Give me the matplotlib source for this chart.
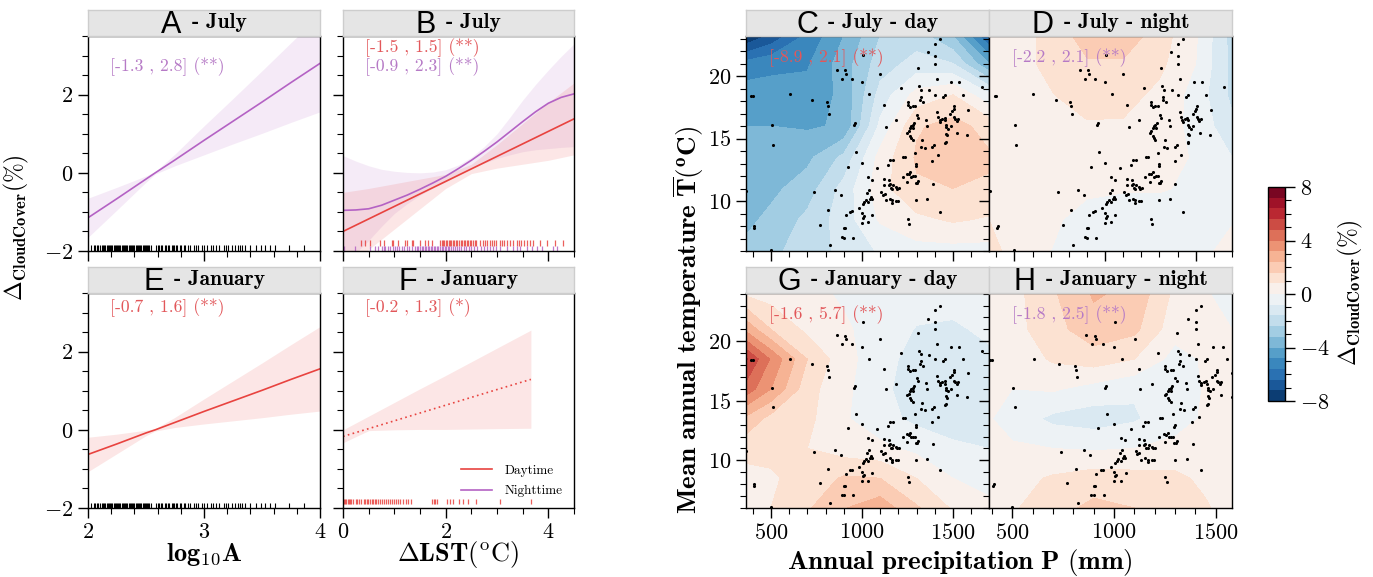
import numpy as np
import matplotlib
matplotlib.use('Agg')
import matplotlib.pyplot as plt
from matplotlib.colors import ListedColormap, BoundaryNorm
from matplotlib.cm import ScalarMappable
from matplotlib.ticker import MultipleLocator
from matplotlib.lines import Line2D

plt.rcParams['mathtext.fontset'] = 'cm'
plt.rcParams['font.family'] = 'serif'
plt.rcParams['font.serif'] = ['cmr10']
plt.rcParams['axes.formatter.use_mathtext'] = True

# ---------------- data: partial effects ----------------
xA = [2.0, 2.25, 2.5, 2.58, 2.75, 3.0, 3.25, 3.5, 3.75, 4.0]
fitA = [-1.15, -0.66, -0.16, 0.0, 0.33, 0.83, 1.32, 1.81, 2.31, 2.80]
upA = [-0.65, -0.37, -0.08, 0.03, 0.48, 1.20, 1.90, 2.61, 3.33, 4.04]
loA = [-1.65, -0.95, -0.24, -0.03, 0.18, 0.46, 0.74, 1.01, 1.29, 1.56]

xE = [2.0, 2.25, 2.5, 2.58, 2.75, 3.0, 3.25, 3.5, 3.75, 4.0]
fitE = [-0.63, -0.36, -0.08, 0.0, 0.19, 0.47, 0.74, 1.01, 1.29, 1.56]
upE = [-0.19, -0.11, -0.01, 0.03, 0.32, 0.79, 1.25, 1.71, 2.18, 2.64]
loE = [-1.07, -0.61, -0.15, -0.03, 0.06, 0.15, 0.23, 0.31, 0.40, 0.48]

xB_day = [0.0, 0.5, 1.0, 1.5, 2.0, 2.5, 3.0, 3.5, 4.0, 4.5]
fitB_day = [-1.50, -1.18, -0.86, -0.54, -0.22, 0.10, 0.42, 0.74, 1.06, 1.38]
upB_day = [-0.50, -0.40, -0.28, -0.16, -0.04, 0.22, 0.72, 1.26, 1.80, 2.30]
loB_day = [-2.50, -1.96, -1.44, -0.92, -0.40, -0.02, 0.12, 0.22, 0.32, 0.46]
xB_night = [0.0, 0.25, 0.5, 0.75, 1.0, 1.25, 1.5, 1.75, 2.0, 2.25, 2.5, 2.75, 3.0, 3.25,
            3.5, 3.75, 4.0, 4.25, 4.5]
fitB_night = [-0.96, -0.95, -0.92, -0.83, -0.70, -0.57, -0.42, -0.26, -0.09, 0.11, 0.32, 0.55,
              0.79, 1.05, 1.31, 1.56, 1.78, 1.93, 2.02]
upB_night = [0.44, 0.30, 0.18, 0.09, 0.04, 0.01, 0.00, 0.02, 0.08, 0.20, 0.40, 0.67, 1.00, 1.42,
             1.86, 2.26, 2.63, 2.98, 3.30]
loB_night = [-2.40, -2.05, -1.73, -1.37, -1.04, -0.79, -0.57, -0.39, -0.23, -0.06, 0.11, 0.25,
             0.37, 0.46, 0.54, 0.59, 0.62, 0.65, 0.67]

xF = [0.0, 0.5, 1.0, 1.5, 2.0, 2.5, 3.0, 3.66]
fitF = [-0.17, 0.03, 0.23, 0.43, 0.63, 0.83, 1.03, 1.29]
upF = [0.00, 0.35, 0.70, 1.05, 1.39, 1.74, 2.09, 2.55]
loF = [-0.33, -0.02, 0.00, 0.01, 0.01, 0.02, 0.03, 0.04]

rug_logA = [2.03, 2.05, 2.06, 2.08, 2.09, 2.10, 2.12, 2.13, 2.14, 2.15, 2.16, 2.17, 2.18, 2.19,
            2.20, 2.21, 2.22, 2.23, 2.24, 2.25, 2.26, 2.27, 2.28, 2.29, 2.30, 2.31, 2.32, 2.33,
            2.34, 2.35, 2.36, 2.37, 2.38, 2.39, 2.40, 2.41, 2.42, 2.43, 2.44, 2.45, 2.46, 2.47,
            2.48, 2.49, 2.50, 2.51, 2.52, 2.53, 2.54, 2.59, 2.60, 2.61, 2.63, 2.64, 2.66, 2.67,
            2.69, 2.70, 2.72, 2.73, 2.74, 2.76, 2.77, 2.79, 2.80, 2.83, 2.84, 2.86, 2.88, 2.91,
            2.93, 2.95, 2.98, 3.00, 3.03, 3.06, 3.08, 3.10, 3.13, 3.17, 3.19, 3.21, 3.24, 3.27,
            3.29, 3.31, 3.33, 3.35, 3.40, 3.45, 3.49, 3.53, 3.57, 3.61, 3.73, 3.86]
rug_dLST_jul_day = [0.36, 0.43, 0.53, 0.72, 0.79, 0.95, 0.98, 1.08, 1.21, 1.24, 1.34, 1.37, 1.50,
                    1.60, 1.66, 1.73, 1.89, 1.92, 1.95, 1.97, 2.00, 2.03, 2.06, 2.08, 2.11, 2.14,
                    2.17, 2.20, 2.23, 2.26, 2.29, 2.32, 2.35, 2.38, 2.41, 2.44, 2.47, 2.50, 2.54,
                    2.57, 2.60, 2.67, 2.73, 2.77, 2.81, 2.86, 2.90, 2.95, 2.99, 3.06, 3.10, 3.14,
                    3.19, 3.25, 3.32, 3.38, 3.42, 3.47, 3.52, 3.58, 3.64, 3.71, 3.84, 3.97, 4.13, 4.29]
rug_dLST_jul_night = [0.02, 0.23, 0.53, 0.62, 0.69, 0.75, 0.79, 0.82, 0.88, 0.92, 0.97, 1.01, 1.05,
                      1.10, 1.15, 1.19, 1.24, 1.29, 1.34, 1.40, 1.44, 1.47, 1.50, 1.53, 1.56, 1.59,
                      1.62, 1.65, 1.68, 1.71, 1.74, 1.77, 1.80, 1.83, 1.86, 1.89, 1.92, 1.95, 1.98,
                      2.01, 2.04, 2.07, 2.10, 2.14, 2.18, 2.22, 2.26, 2.30, 2.35, 2.40, 2.45, 2.50,
                      2.56, 2.62, 2.68, 2.74, 2.80, 2.86, 2.92, 2.99, 3.06, 3.19, 3.32, 3.38, 3.45,
                      3.58, 3.68, 3.77, 3.87, 4.10, 4.16]
rug_dLST_jan_day = [0.00, 0.02, 0.04, 0.06, 0.09, 0.11, 0.14, 0.16, 0.19, 0.25, 0.28, 0.31, 0.36,
                    0.40, 0.43, 0.46, 0.49, 0.53, 0.56, 0.59, 0.62, 0.65, 0.68, 0.72, 0.76, 0.80,
                    0.84, 0.88, 0.92, 0.96, 1.00, 1.04, 1.08, 1.12, 1.17, 1.22, 1.27, 1.32, 1.74,
                    1.77, 1.80, 1.84, 2.03, 2.08, 2.15, 2.25, 2.34, 2.44, 2.60, 3.06, 3.66]

# ---------------- data: cities (precipitation, temperature) ----------------
city_P = [392, 401, 365, 408, 405, 504, 511, 498, 604, 727, 738, 769, 808, 811, 819, 811, 822, 853,
          861, 883, 892, 905, 910, 888, 899, 899, 908, 947, 952, 912, 921, 934, 947, 954, 962, 967,
          983, 998, 998, 1000, 1000, 1004, 1006, 1011, 1006, 1013, 1020, 1028, 1033, 1035, 1037,
          1042, 1048, 1053, 1053, 1057, 1033, 1037, 1081, 1101, 1106, 1114, 1121, 1121, 1124, 1123,
          1130, 1141, 1147, 1147, 1154, 1159, 1167, 1172, 1185, 1190, 1201, 1134, 1152, 1167, 1189,
          1196, 1165, 1154, 1168, 1189, 1214, 1227, 1223, 1236, 1245, 1256, 1264, 1269, 1249, 1252,
          1251, 1262, 1278, 1291, 1251, 1260, 1249, 1256, 1264, 1271, 1278, 1286, 1264, 1271, 1278,
          1282, 1291, 1299, 1297, 1308, 1297, 1304, 1282, 1291, 1299, 1302, 1308, 1310, 1315, 1326,
          1322, 1319, 1337, 1330, 1324, 1344, 1357, 1353, 1386, 1397, 1385, 1388, 1357, 1370, 1364,
          1404, 1404, 1404, 1429, 1414, 1419, 1430, 1401, 1445, 1456, 1412, 1419, 1427, 1430, 1441,
          1454, 1456, 1460, 1463, 1460, 1465, 1460, 1456, 1484, 1495, 1504, 1507, 1513, 1520, 1527,
          1474, 1487, 1489, 1505, 1524, 1535, 1557, 1582, 1579, 1657]
city_T = [18.4, 18.4, 10.8, 8.0, 7.85, 16.1, 14.45, 6.1, 18.55, 18.1, 10.7, 8.1, 17.9, 17.6, 17.0,
          9.3, 6.45, 10.85, 20.5, 10.45, 19.75, 20.45, 20.2, 7.1, 7.05, 7.85, 7.85, 19.75, 7.05, 8.85,
          12.7, 9.15, 9.2, 16.05, 16.25, 13.9, 9.45, 8.25, 19.55, 13.05, 9.05, 21.65, 8.65, 8.8, 9.8,
          9.95, 10.1, 10.65, 9.95, 8.3, 18.55, 10.2, 10.35, 10.2, 11.7, 8.9, 11.9, 10.9, 12.65, 20.2,
          10.75, 10.5, 11.8, 11.3, 10.6, 17.7, 15.95, 12.9, 11.7, 11.3, 11.35, 11.05, 11.0, 11.3,
          11.15, 11.0, 11.05, 10.05, 10.2, 10.05, 10.0, 10.0, 9.85, 13.25, 13.25, 16.45, 19.05, 13.55,
          11.95, 13.55, 12.2, 12.15, 12.3, 11.95, 11.55, 17.7, 17.95, 17.5, 17.6, 17.6, 8.6, 8.2,
          15.45, 15.6, 15.85, 16.0, 16.1, 16.25, 15.2, 15.05, 14.9, 15.85, 13.85, 12.95, 12.8, 11.6,
          11.45, 11.45, 12.0, 12.0, 10.05, 16.9, 16.65, 20.65, 19.2, 18.9, 18.3, 18.1, 17.95, 14.85,
          14.3, 14.25, 16.0, 16.5, 14.3, 14.45, 13.2, 11.4, 10.15, 18.85, 21.9, 22.6, 21.6, 21.0,
          23.0, 19.8, 13.65, 9.15, 18.5, 18.3, 18.5, 17.1, 16.7, 16.5, 16.3, 16.55, 16.65, 16.45,
          16.05, 15.9, 15.4, 15.25, 14.75, 14.65, 17.0, 17.2, 17.4, 16.7, 16.55, 16.4, 16.55, 15.8,
          16.0, 19.5, 17.6, 15.45, 19.5, 18.5, 17.3, 15.3, 19.15]

# ---------------- data: fitted surfaces (rows: temperature, cols: precipitation) ----------------
P_cols_CDG = [363, 500, 700, 900, 1100, 1300, 1500, 1698]
P_cols_H = [385, 500, 700, 900, 1100, 1300, 1450, 1580]
T_rows_jul = [6.0, 8.5, 11.0, 13.5, 16.0, 18.5, 21.0, 23.2]
T_rows_jan = [6.0, 8.5, 11.0, 13.5, 16.0, 18.5, 21.0, 24.05]

Z_jul_day = [
    [-3.0, -2.6, -2.0, -1.4, -0.7, -0.3, -0.3, -0.3],
    [-3.4, -3.0, -2.2, -1.2, 0.1, 0.6, 0.9, 0.7],
    [-3.7, -3.4, -2.8, -1.3, 0.5, 1.5, 1.6, 1.5],
    [-3.6, -3.6, -3.4, -2.2, 0.3, 1.7, 1.9, 1.7],
    [-4.0, -4.0, -4.1, -3.9, -0.6, 1.5, 1.9, 1.3],
    [-4.4, -4.5, -4.5, -3.8, -1.3, 0.3, 0.8, -0.6],
    [-5.3, -5.0, -4.9, -3.6, -2.0, -1.3, -1.6, -4.0],
    [-8.9, -7.0, -5.4, -4.0, -2.4, -2.0, -3.2, -6.5],
]
Z_jul_night = [
    [1.0, 0.6, 0.0, -0.3, -0.4, -0.4, -0.2, 0.2],
    [0.8, 0.4, 0.1, -0.2, -0.3, -0.3, -0.3, -0.05],
    [0.4, 0.2, 0.1, 0.1, 0.05, 0.05, -0.1, -0.3],
    [0.2, 0.2, 0.3, 0.3, 0.3, 0.2, -0.05, -0.8],
    [0.1, 0.2, 0.45, 0.7, 0.7, 0.35, -0.2, -1.4],
    [0.1, 0.35, 0.75, 1.2, 1.1, 0.6, -0.3, -1.8],
    [0.2, 0.5, 1.0, 1.5, 1.5, 1.0, 0.0, -1.8],
    [0.3, 0.5, 1.0, 2.0, 2.1, 1.2, 0.1, -1.9],
]
Z_jan_day = [
    [0.5, 0.8, 1.5, 2.35, 2.9, 1.7, 0.7, 0.2],
    [0.5, 0.7, 1.1, 1.7, 1.6, 0.8, 0.0, -0.3],
    [1.1, 1.0, 0.8, 0.4, 0.2, -0.2, -0.6, -0.8],
    [2.2, 1.3, 1.0, 0.1, -0.5, -1.0, -1.3, -1.1],
    [4.5, 3.2, 1.1, 0.2, -0.6, -1.2, -1.4, -1.2],
    [5.7, 3.9, 1.6, 0.3, -0.5, -1.1, -1.3, -1.0],
    [3.0, 1.6, 0.6, 0.1, -0.3, -0.85, -0.95, -0.6],
    [0.6, 0.4, 0.2, -0.1, -0.3, -0.4, -0.4, -0.3],
]
Z_jan_night = [
    [0.3, 0.7, 1.3, 1.8, 1.6, 1.3, 0.9, 0.4],
    [0.2, 0.5, 0.9, 1.2, 1.1, 1.0, 0.6, 0.3],
    [0.1, 0.1, 0.0, -0.1, 0.0, 0.2, 0.3, 0.3],
    [0.05, -0.3, -1.0, -1.2, -0.9, -0.3, 0.1, 0.3],
    [0.05, 0.0, 0.1, -0.3, -0.7, -0.7, 0.1, 0.2],
    [0.1, 0.3, 0.9, 1.2, 0.8, -0.3, 0.1, 0.2],
    [0.1, 0.5, 1.3, 2.1, 1.8, 0.3, 0.1, 0.0],
    [0.0, 0.5, 1.5, 2.5, 2.2, 0.6, 0.1, -0.5],
]

panel_letters = ['A', 'B', 'C', 'D', 'E', 'F', 'G', 'H']
panel_titles = ['- July', '- July', '- July - day', '- July - night',
                '- January', '- January', '- January - day', '- January - night']
ci_texts = {'A': [('[-1.3 , 2.8] (**)', 'n')],
            'B': [('[-1.5 , 1.5] (**)', 'd'), ('[-0.9 , 2.3] (**)', 'n')],
            'C': [('[-8.9 , 2.1] (**)', 'd')],
            'D': [('[-2.2 , 2.1] (**)', 'n')],
            'E': [('[-0.7 , 1.6] (**)', 'd')],
            'F': [('[-0.2 , 1.3] (*)', 'd')],
            'G': [('[-1.6 , 5.7] (**)', 'd')],
            'H': [('[-1.8 , 2.5] (**)', 'n')]}

# ---------------- styling ----------------
RED = '#e8433f'
PURPLE = '#b462c4'
TXT = {'d': '#e2575a', 'n': '#b67ac6'}

W, H = 1373, 577
fig = plt.figure(figsize=(W / 100, H / 100), dpi=100)


def rect(x0, y0, x1, y1):
    return [x0 / W, 1 - y1 / H, (x1 - x0) / W, (y1 - y0) / H]


def fpos(x, y):
    return (x / W, 1 - y / H)


def style(ax, xlab=True, ylab=True):
    ax.tick_params(which='major', direction='out', length=7, width=1, labelsize=16,
                   labelbottom=xlab, labelleft=ylab)
    ax.tick_params(which='minor', direction='out', length=4, width=0.8)
    for s in ax.spines.values():
        s.set_linewidth(1)


renderer = fig.canvas.get_renderer()


def strip(box, letter, rest):
    x0, y0, x1, y1 = box
    sax = fig.add_axes(rect(x0, y0 - 26, x1, y0))
    sax.set_facecolor('#e5e5e5')
    sax.set_xticks([])
    sax.set_yticks([])
    for s in sax.spines.values():
        s.set_color('#cdcdcd')
        s.set_linewidth(1)
    t1 = fig.text(0, 0, letter, fontsize=22, family='Liberation Sans', va='baseline')
    t2 = fig.text(0, 0, rest, fontsize=15.5, family='cmb10', va='baseline')
    w1 = t1.get_window_extent(renderer).width
    w2 = t2.get_window_extent(renderer).width
    gap = 10
    start = (x0 + x1) / 2 - (w1 + gap + w2) / 2
    t1.set_position(fpos(start, y0 - 3))
    t2.set_position(fpos(start + w1 + gap, y0 - 8))


def ci_label(letter, x, y, dy=19):
    for i, (s, k) in enumerate(ci_texts[letter]):
        fig.text(*fpos(x, y + i * dy), s, fontsize=12.7, color=TXT[k], va='center', zorder=10)


boxes = {'A': (88, 36, 320, 251), 'B': (343, 36, 574, 251),
         'E': (88, 293, 320, 508), 'F': (343, 293, 574, 508),
         'C': (746, 36, 989, 251), 'D': (989, 36, 1232, 251),
         'G': (746, 293, 989, 508), 'H': (989, 293, 1232, 508)}

axes = {k: fig.add_axes(rect(*v)) for k, v in boxes.items()}
for k, t in zip(panel_letters, panel_titles):
    strip(boxes[k], k, t)

# ---------------- left block ----------------
for k in 'ABEF':
    ax = axes[k]
    ax.set_ylim(-2, 3.5)
    ax.yaxis.set_major_locator(MultipleLocator(2))
    ax.yaxis.set_minor_locator(MultipleLocator(0.5))
    if k in 'AE':
        ax.set_xlim(2, 4)
        ax.xaxis.set_major_locator(MultipleLocator(1))
        ax.xaxis.set_minor_locator(MultipleLocator(0.2))
    else:
        ax.set_xlim(0, 4.5)
        ax.xaxis.set_major_locator(MultipleLocator(2))
        ax.xaxis.set_minor_locator(MultipleLocator(0.5))
    style(ax, xlab=k in 'EF', ylab=k in 'AE')

ax = axes['A']
ax.fill_between(xA, loA, upA, color=PURPLE, alpha=0.13, lw=0)
ax.plot(xA, fitA, color=PURPLE, lw=1.2)
ax.vlines(rug_logA, -1.99, -1.85, color='k', lw=0.8)

ax = axes['E']
ax.fill_between(xE, loE, upE, color=RED, alpha=0.13, lw=0)
ax.plot(xE, fitE, color=RED, lw=1.2)
ax.vlines(rug_logA, -1.99, -1.87, color='k', lw=0.8)

ax = axes['B']
ax.fill_between(xB_night, loB_night, upB_night, color=PURPLE, alpha=0.12, lw=0)
ax.fill_between(xB_day, loB_day, upB_day, color=RED, alpha=0.13, lw=0)
ax.plot(xB_day, fitB_day, color=RED, lw=1.2)
ax.plot(xB_night, fitB_night, color=PURPLE, lw=1.2)
ax.vlines(rug_dLST_jul_day, -1.86, -1.71, color=RED, lw=0.9, alpha=0.85)
ax.vlines(rug_dLST_jul_night, -1.99, -1.86, color=PURPLE, lw=0.9, alpha=0.85)

ax = axes['F']
ax.fill_between(xF, loF, upF, color=RED, alpha=0.13, lw=0)
ax.plot(xF, fitF, color=RED, lw=1.2, ls=(0, (1, 2)))
ax.vlines(rug_dLST_jan_day, -1.89, -1.77, color=RED, lw=0.9, alpha=0.85)
ax.legend([Line2D([], [], color=RED, lw=1.2), Line2D([], [], color=PURPLE, lw=1.2)],
          ['Daytime', 'Nighttime'], loc='lower right', bbox_to_anchor=(1.0, -0.005),
          frameon=False, fontsize=9.5, handlelength=2.35, handletextpad=0.9, labelspacing=0.6)

ci_label('A', 110, 67)
ci_label('B', 365, 48)
ci_label('E', 110, 308)
ci_label('F', 365, 308)

# ---------------- right block ----------------
levels = np.linspace(-8, 8, 21)
band_colors = plt.get_cmap('RdBu_r')((np.arange(20) + 0.5) / 20)
cmap = ListedColormap(band_colors)
norm = BoundaryNorm(levels, 20)

surf = {'C': (P_cols_CDG, T_rows_jul, Z_jul_day, (363, 1698)),
        'D': (P_cols_CDG, T_rows_jul, Z_jul_night, (360, 1700)),
        'G': (P_cols_CDG, T_rows_jan, Z_jan_day, (363, 1698)),
        'H': (P_cols_H, T_rows_jan, Z_jan_night, (385, 1580))}
for k, (pc, tr, z, xl) in surf.items():
    ax = axes[k]
    pc = list(pc)
    pc[0], pc[-1] = xl
    ax.contourf(pc, tr, np.clip(np.array(z), -7.99, 7.99), levels=levels, cmap=cmap, norm=norm)
    ax.scatter(city_P, city_T, s=5, c='k', lw=0, zorder=3)
    ax.set_xlim(*xl)
    ax.set_ylim(tr[0], tr[-1])
    ax.xaxis.set_major_locator(MultipleLocator(500))
    ax.xaxis.set_minor_locator(MultipleLocator(100))
    ax.yaxis.set_major_locator(MultipleLocator(5))
    ax.yaxis.set_minor_locator(MultipleLocator(1))
    style(ax, xlab=k in 'GH', ylab=k in 'CG')

ci_label('C', 769, 58)
ci_label('D', 1012, 58)
ci_label('G', 769, 315)
ci_label('H', 1012, 315)

cax = fig.add_axes(rect(1268, 187, 1285, 401))
cb = fig.colorbar(ScalarMappable(norm=norm, cmap=cmap), cax=cax, ticks=[-8, -4, 0, 4, 8])
cb.ax.yaxis.set_minor_locator(MultipleLocator(1))
cb.ax.tick_params(which='major', length=7, width=1, labelsize=16)
cb.ax.tick_params(which='minor', length=4, width=0.8)
cb.outline.set_linewidth(1)

# ---------------- labels ----------------
fig.text(*fpos(16, 228), r'$\mathbf{\Delta_{CloudCover}}(\%)$', fontsize=17, rotation=90,
         ha='center', va='center')
fig.text(*fpos(204, 555), r'$\mathbf{log_{10}A}$', fontsize=19, ha='center', va='center')
fig.text(*fpos(458, 555), r'$\mathbf{\Delta LST}(^{\mathrm{o}}\mathrm{C})$', fontsize=19,
         ha='center', va='center')
fig.text(*fpos(960, 562), r'$\mathbf{Annual\ precipitation\ P\ (mm)}$', fontsize=19.5,
         ha='center', va='center')
fig.text(*fpos(688, 320), r'$\mathbf{Mean\ annual\ temperature\ \overline{T}(^{o}C)}$',
         fontsize=19.5, rotation=90, ha='center', va='center')
fig.text(*fpos(1350, 293), r'$\mathbf{\Delta_{CloudCover}}(\%)$', fontsize=17, rotation=90,
         ha='center', va='center')

fig.savefig('out.png', dpi=100)
